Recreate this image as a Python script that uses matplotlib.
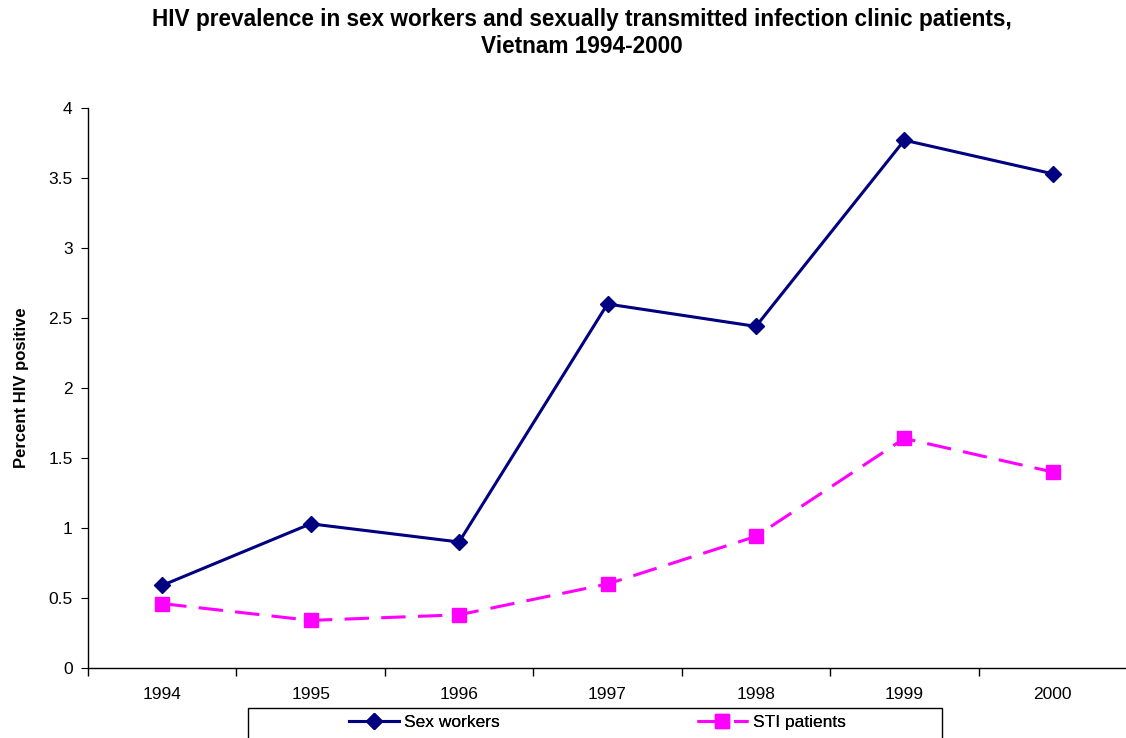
import numpy as np
import matplotlib.pyplot as plt
from matplotlib.patches import Rectangle

plt.rcParams['font.family'] = ['Liberation Sans', 'DejaVu Sans']

years = ['1994', '1995', '1996', '1997', '1998', '1999', '2000']
sex_workers = [0.59, 1.03, 0.90, 2.60, 2.44, 3.77, 3.53]
sti_patients = [0.46, 0.34, 0.38, 0.60, 0.94, 1.64, 1.40]

W, H = 1126, 738
fig = plt.figure(figsize=(W / 100, H / 100), dpi=100)
ax = fig.add_axes([88 / W, 70 / H, 1039 / W, 560 / H])

x = np.arange(len(years))
l1, = ax.plot(x, sex_workers, color='#000080', lw=2.2, marker='D', ms=8.5, label='Sex workers')
l2, = ax.plot(x, sti_patients, color='#FF00FF', lw=2.2, ls=(0, (8, 4)), marker='s', ms=10,
              label='STI patients')

ax.set_xlim(-0.5, len(years) - 0.5)
ax.set_ylim(0, 4)
ax.set_yticks(np.arange(0, 4.01, 0.5))
ax.set_yticklabels(['0', '0.5', '1', '1.5', '2', '2.5', '3', '3.5', '4'])
ax.set_xticks(x)
ax.set_xticklabels(years)
ax.set_xticks(np.arange(-0.5, len(years), 1), minor=True)
ax.tick_params(axis='x', which='major', length=0, pad=14, labelsize=12.5)
ax.tick_params(axis='x', which='minor', length=6, direction='out', width=1)
ax.tick_params(axis='y', length=5, direction='out', labelsize=12.5, pad=6)

for s in ['top', 'right']:
    ax.spines[s].set_visible(False)
for s in ['left', 'bottom']:
    ax.spines[s].set_linewidth(1)

ax.set_ylabel('Percent HIV positive', fontsize=12, fontweight='bold', labelpad=14)
fig.text(582 / W, 1 - 33 / H,
         'HIV prevalence in sex workers and sexually transmitted infection clinic patients,\nVietnam 1994-2000',
         ha='center', va='center', fontsize=16.3, fontweight='bold', linespacing=1.25)

# legend box at the bottom, one entry centred in each half
x0, x1, y0 = 248 / W, 942 / W, 30 / H
fig.add_artist(Rectangle((x0, -0.01), x1 - x0, y0 + 0.01, transform=fig.transFigure,
                         fill=False, edgecolor='black', lw=1))
half = (x1 - x0) / 2
for i, h in enumerate([l1, l2]):
    lg = fig.legend([h], [h.get_label()], loc='center',
                    bbox_to_anchor=(x0 + half * (i + 0.5) + 3 / W, 16 / H),
                    fontsize=12.5, handlelength=2.9, handletextpad=0.3, frameon=False,
                    borderaxespad=0)
    fig.add_artist(lg)

fig.savefig('out.png', dpi=100)
